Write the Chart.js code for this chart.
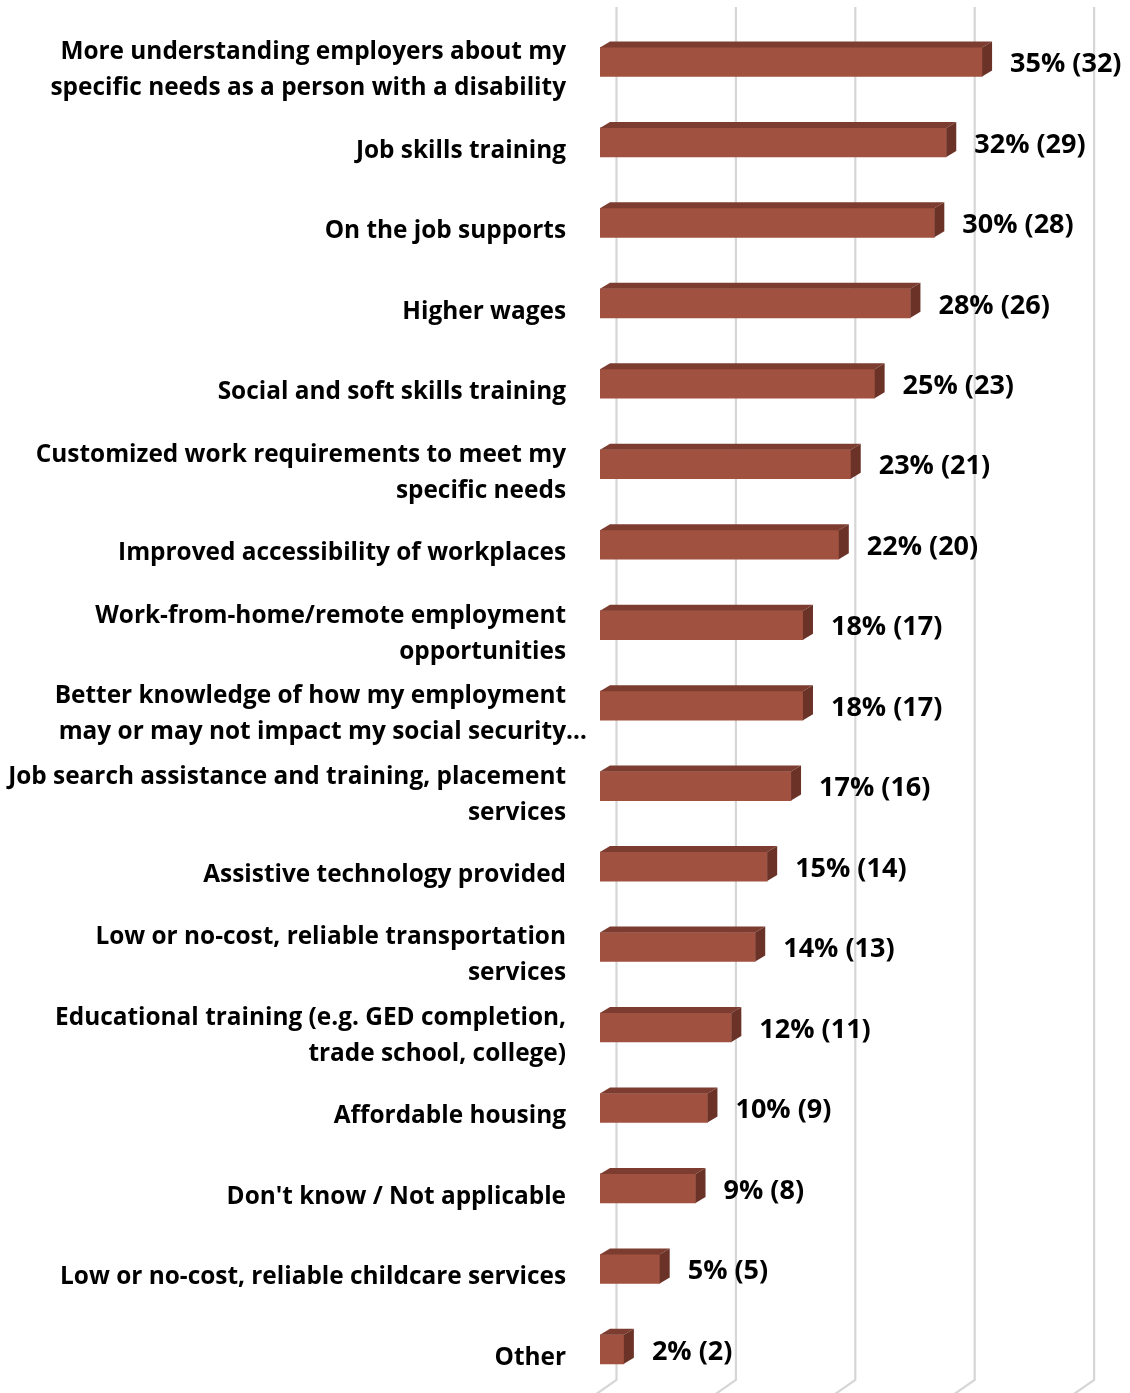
<!DOCTYPE html>
<html>
<head>
<meta charset="utf-8">
<script src="https://cdn.jsdelivr.net/npm/chart.js@4.4.1/dist/chart.umd.min.js"></script>
<style>
  html, body { margin: 0; padding: 0; background: #fff; }
  canvas { display: block; }
</style>
</head>
<body>
<canvas id="myChart" width="1130" height="1393"></canvas>
<script>
const categorias = [
    ['More understanding employers about my', 'specific needs as a person with a disability'],
    ['Job skills training'],
    ['On the job supports'],
    ['Higher wages'],
    ['Social and soft skills training'],
    ['Customized work requirements to meet my', 'specific needs'],
    ['Improved accessibility of workplaces'],
    ['Work-from-home/remote employment', 'opportunities'],
    ['Better knowledge of how my employment', 'may or may not impact my social security\u2026'],
    ['Job search assistance and training, placement', 'services'],
    ['Assistive technology provided'],
    ['Low or no-cost, reliable transportation', 'services'],
    ['Educational training (e.g. GED completion,', 'trade school, college)'],
    ['Affordable housing'],
    ["Don't know / Not applicable"],
    ['Low or no-cost, reliable childcare services'],
    ['Other'],
];
const porcentajes = [35, 32, 30, 28, 25, 23, 22, 18, 18, 17, 15, 14, 12, 10, 9, 5, 2];
const conteos = [32, 29, 28, 26, 23, 21, 20, 17, 17, 16, 14, 13, 11, 9, 8, 5, 2];
const ticksX = [0, 10, 20, 30, 40];

const COLOR_FRENTE = '#a0513f';
const COLOR_ARRIBA = '#7c3d30';
const COLOR_LADO = '#6b3328';
const COLOR_GRILLA = '#d6d6d6';
const FUENTE = '"Open Sans", sans-serif';

// profundidad de las barras 3D
const PROF_X = 10;
const PROF_Y = 6;

const myChart = document.getElementById('myChart');

// rejilla en la pared del fondo + piso inclinado
const pluginGrilla = {
    id: 'grilla3d',
    beforeDatasetsDraw(chart) {
        const ctx = chart.ctx;
        const x = chart.scales.x;
        ctx.save();
        ctx.strokeStyle = COLOR_GRILLA;
        ctx.lineWidth = 2.2;
        for (const v of ticksX) {
            const px = x.getPixelForValue(v) + 16.5;
            ctx.beginPath();
            ctx.moveTo(px, 7);
            ctx.lineTo(px, 1380);
            ctx.lineTo(px - 26, 1398);
            ctx.stroke();
        }
        ctx.restore();
    },
};

// caras de arriba y del costado, etiquetas de valor y de categoria
const pluginBarras3d = {
    id: 'barras3d',
    afterDatasetsDraw(chart) {
        const ctx = chart.ctx;
        const meta = chart.getDatasetMeta(0);
        const yScale = chart.scales.y;
        ctx.save();
        meta.data.forEach((bar, i) => {
            const x0 = bar.base;
            const x1 = bar.x;
            const top = bar.y - bar.height / 2;
            const bot = bar.y + bar.height / 2;

            ctx.fillStyle = COLOR_ARRIBA;
            ctx.beginPath();
            ctx.moveTo(x0, top);
            ctx.lineTo(x0 + PROF_X, top - PROF_Y);
            ctx.lineTo(x1 + PROF_X, top - PROF_Y);
            ctx.lineTo(x1, top);
            ctx.closePath();
            ctx.fill();

            ctx.fillStyle = COLOR_LADO;
            ctx.beginPath();
            ctx.moveTo(x1, top);
            ctx.lineTo(x1 + PROF_X, top - PROF_Y);
            ctx.lineTo(x1 + PROF_X, bot - PROF_Y);
            ctx.lineTo(x1, bot);
            ctx.closePath();
            ctx.fill();

            ctx.fillStyle = '#000';
            ctx.font = `bold 27px ${FUENTE}`;
            ctx.textAlign = 'left';
            ctx.textBaseline = 'middle';
            ctx.fillText(`${porcentajes[i]}% (${conteos[i]})`, x1 + 28, bar.y + 2.5);
        });

        ctx.font = `bold 24.4px ${FUENTE}`;
        ctx.textAlign = 'right';
        ctx.textBaseline = 'middle';
        ctx.fillStyle = '#000';
        categorias.forEach((lineas, i) => {
            const yc = yScale.getPixelForValue(i) + 8.5;
            const alto = 36;
            lineas.forEach((linea, j) => {
                const y = yc + (j - (lineas.length - 1) / 2) * alto;
                if (linea.endsWith('\u2026')) {
                    const base = linea.slice(0, -1);
                    ctx.fillText(base, 566, y);
                    ctx.textAlign = 'left';
                    ctx.fillText('\u2026', 566, y);
                    ctx.textAlign = 'right';
                } else {
                    ctx.fillText(linea, 566, y);
                }
            });
        });
        ctx.restore();
    },
};

new Chart(myChart, {
    type: 'bar',
    data: {
        labels: categorias,
        datasets: [
            {
                data: conteos,
                backgroundColor: COLOR_FRENTE,
                borderWidth: 0,
                barThickness: 29,
            },
        ],
    },
    options: {
        indexAxis: 'y',
        responsive: false,
        animation: false,
        devicePixelRatio: 1,
        layout: {
            padding: { left: 600, right: 52.4, top: 21.7, bottom: 3.4 },
        },
        plugins: {
            legend: { display: false },
            tooltip: { enabled: false },
        },
        scales: {
            x: { display: false, min: 0, max: 40 },
            y: { display: false },
        },
    },
    plugins: [pluginGrilla, pluginBarras3d],
});
</script>
</body>
</html>
